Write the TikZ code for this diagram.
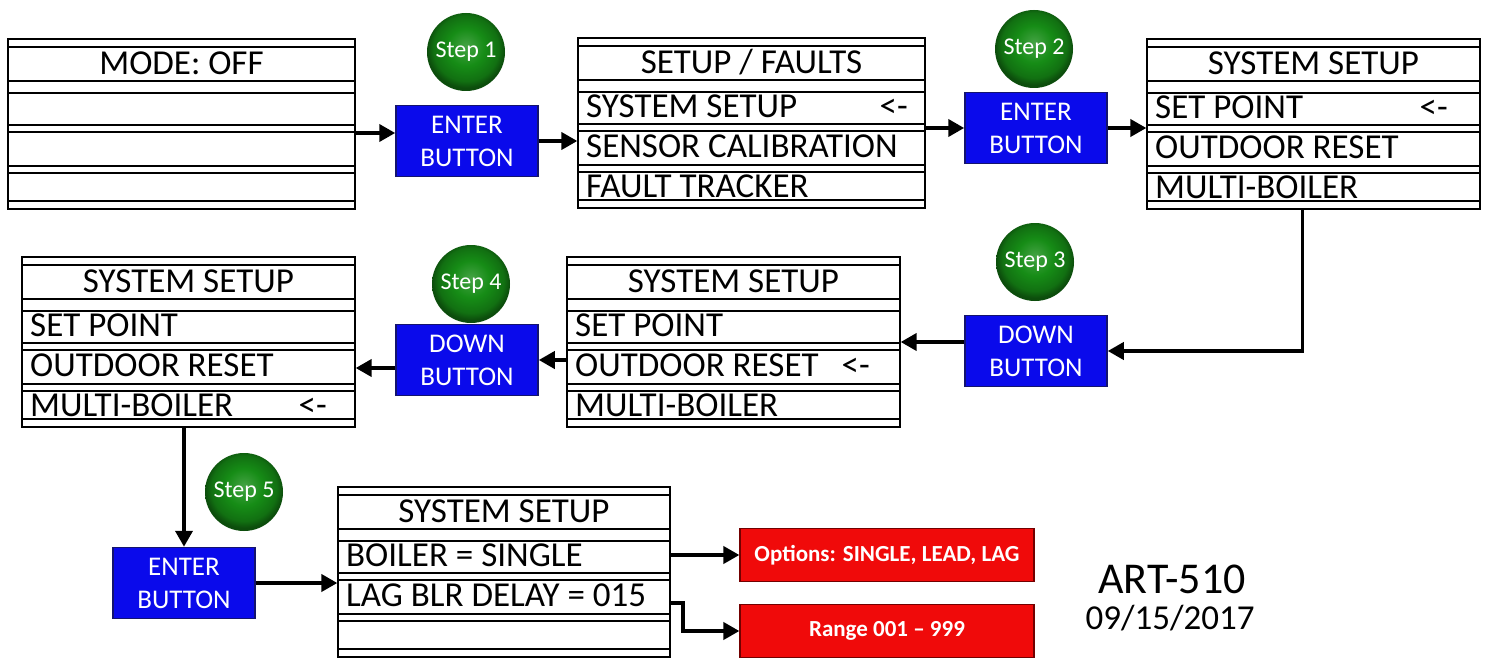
\documentclass[tikz,border=0pt]{standalone}
\usepackage{fontspec}
\setmainfont{Carlito}
\usetikzlibrary{arrows.meta,calc}
\definecolor{stepgreen}{RGB}{22,140,22}
\definecolor{keyblue}{RGB}{10,10,235}
\definecolor{keyline}{RGB}{20,20,110}
\definecolor{alertred}{RGB}{240,10,10}
\pgfdeclareradialshading{stepshade}{\pgfpoint{0bp}{4bp}}{color(0bp)=(stepgreen!80!white); color(12bp)=(stepgreen); color(21bp)=(stepgreen!80!black); color(25bp)=(stepgreen!55!black); color(50bp)=(stepgreen!55!black)}
\newcommand{\menupanel}[8]{%
  \node[panel, minimum width=#4pt] (#1) at (#2+#4/2,#3+85) {};
  \foreach \d in {8,42,54,86,93,127,134,162}
    \draw[panel line] (#2,#3+\d) -- (#2+#4,#3+\d);
  \node[menu text] (#1-t) at (#2+#4/2,#3+24) {#5};
  \node[menu text, anchor=west] (#1-a) at (#2+8,#3+68) {#6};
  \node[menu text, anchor=west] (#1-b) at (#2+8,#3+108) {#7};
  \node[menu text, anchor=west] (#1-c) at (#2+8,#3+148) {#8};
}
\begin{document}
\begin{tikzpicture}[x=1pt, y=-1pt,
    panel/.style={draw, line width=1.3pt, minimum height=170pt, inner sep=0pt},
    panel line/.style={line width=1.3pt},
    menu text/.style={font=\fontsize{35}{40}\selectfont, text height=22.5pt, text depth=0pt, inner sep=0pt},
    key/.style={fill=keyblue, draw=keyline, line width=1.5pt, text=white, align=center,
      font=\fontsize{27}{33}\selectfont, minimum width=142pt, minimum height=71pt, inner sep=0pt},
    stepball/.style={circle, shading=stepshade, minimum size=78pt, inner sep=0pt,
      text=white, font=\fontsize{24}{26}\selectfont},
    alert/.style={fill=alertred, draw=red!45!black, line width=1.2pt, text=white,
      font=\bfseries\fontsize{23}{26}\selectfont, minimum width=294pt, minimum height=53pt, inner sep=0pt},
    flow/.style={line width=3.8pt, -{Triangle[length=16pt,width=17pt]}}]
  \useasboundingbox (0,0) rectangle (1487,658);
  \menupanel{p1}{8}{39}{347}{MODE: OFF}{}{}{}
  \menupanel{p2}{578}{38}{347}{SETUP / FAULTS}{SYSTEM SETUP}{SENSOR CALIBRATION}{FAULT TRACKER}
  \menupanel{p3}{1147}{39}{333}{SYSTEM SETUP}{SET POINT}{OUTDOOR RESET}{MULTI-BOILER}
  \menupanel{p4}{567}{257}{333}{SYSTEM SETUP}{SET POINT}{OUTDOOR RESET}{MULTI-BOILER}
  \menupanel{p5}{22}{257}{333}{SYSTEM SETUP}{SET POINT}{OUTDOOR RESET}{MULTI-BOILER}
  \menupanel{p6}{338}{487}{332}{SYSTEM SETUP}{BOILER = SINGLE}{LAG BLR DELAY = 015}{}
  \node[menu text, anchor=east] (p2-m) at (908,106) {<-};
  \node[menu text, anchor=east] (p3-m) at (1448,107) {<-};
  \node[menu text, anchor=east] (p4-m) at (870,365) {<-};
  \node[menu text, anchor=east] (p5-m) at (327,405) {<-};
  \node[key] (b1) at (467,141) {ENTER\\BUTTON};
  \node[key] (b2) at (1036,128) {ENTER\\BUTTON};
  \node[key] (b3) at (1036,351) {DOWN\\BUTTON};
  \node[key] (b4) at (467,360) {DOWN\\BUTTON};
  \node[key] (b5) at (184,583) {ENTER\\BUTTON};
  \node[stepball] (s1) at (466,52) {Step 1};
  \node[stepball] (s2) at (1034,49) {Step 2};
  \node[stepball] (s3) at (1035,262) {Step 3};
  \node[stepball] (s4) at (471,284) {Step 4};
  \node[stepball] (s5) at (244,492) {Step 5};
  \node[alert] (r1) at (887,555) {Options: SINGLE, LEAD, LAG};
  \node[alert] (r2) at (887,631) {Range 001 -- 999};
  \node[font=\fontsize{44}{50}\selectfont, anchor=base, inner sep=0pt, text height=28pt, text depth=0pt] (art) at (1172,593) {ART-510};
  \node[font=\fontsize{35}{40}\selectfont, anchor=base, inner sep=0pt, text height=23pt, text depth=0pt] (date) at (1170,629) {09/15/2017};
  \draw[flow] ([yshift=-9pt]p1.east) -- ([yshift=-9pt]p1.east -| b1.west);
  \draw[flow] (b1) -- (b1 -| p2.west);
  \draw[flow] (p2.east |- b2) -- (b2);
  \draw[flow] (b2) -- (b2 -| p3.west);
  \draw[flow] ([xshift=-11pt]p3.south) |- (b3);
  \draw[flow] (b3.west |- p4.east) -- (p4.east);
  \draw[flow] (p4.west |- b4) -- (b4);
  \draw[flow] ([yshift=-8pt]b4.west) -- ([yshift=-8pt]b4.west -| p5.east);
  \draw[flow] (b5 |- p5.south) -- (b5);
  \draw[flow] (b5) -- (b5 -| p6.west);
  \draw[flow] (p6.east |- r1) -- (r1);
  \draw[flow] ($(p6.east |- p6-b)+(0,8)$) -- ++(12,0) |- (r2);
\end{tikzpicture}
\end{document}
